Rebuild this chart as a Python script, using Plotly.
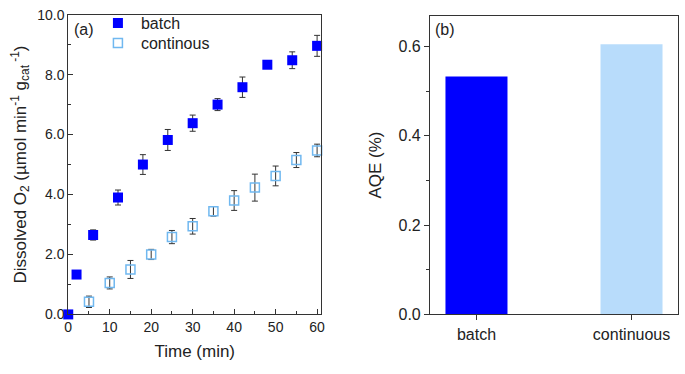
import plotly.graph_objects as go

# ---- data ----
batch_t = [0, 2, 6, 12, 18, 24, 30, 36, 42, 48, 54, 60]
batch_o2 = [0.0, 1.33, 2.65, 3.9, 5.0, 5.82, 6.38, 7.0, 7.58, 8.33, 8.48, 8.96]
batch_err = [0.0, 0.1, 0.17, 0.25, 0.33, 0.35, 0.27, 0.2, 0.34, 0.08, 0.28, 0.35]

cont_t = [5, 10, 15, 20, 25, 30, 35, 40, 45, 50, 55, 60]
cont_o2 = [0.42, 1.05, 1.5, 2.0, 2.58, 2.94, 3.44, 3.8, 4.23, 4.62, 5.15, 5.47]
cont_err = [0.19, 0.2, 0.3, 0.17, 0.22, 0.26, 0.16, 0.33, 0.45, 0.33, 0.25, 0.21]

aqe_cats = ["batch", "continuous"]
aqe_vals = [0.533, 0.605]

y_ticks = [0, 2, 4, 6, 8, 10]
y_ticklabels = ["0.0", "2.0", "4.0", "6.0", "8.0", "10.0"]

BLUE = "#0000ff"
LIGHT = "#b8dcfb"
HOLLOW = "#70b8f0"
FONT = "Liberation Sans, Arial, sans-serif"
TXT = "#222222"

fig = go.Figure()

fig.add_trace(go.Scatter(
    x=batch_t, y=batch_o2, mode="markers", name="batch", legend="legend",
    marker=dict(symbol="square", size=10, color=BLUE, line=dict(width=0)),
    error_y=dict(type="data", array=batch_err, color="#333333", thickness=1, width=3),
    xaxis="x", yaxis="y", cliponaxis=False,
))
fig.add_trace(go.Scatter(
    x=cont_t, y=cont_o2, mode="markers", name="continous", legend="legend2",
    marker=dict(symbol="square-open", size=9, color=HOLLOW, line=dict(width=1.5)),
    error_y=dict(type="data", array=cont_err, color="#333333", thickness=1, width=3),
    xaxis="x", yaxis="y", cliponaxis=False,
))
fig.add_trace(go.Bar(
    x=aqe_cats, y=aqe_vals, marker=dict(color=[BLUE, LIGHT], line=dict(width=0)),
    width=0.4, showlegend=False, xaxis="x2", yaxis="y2",
))

H = 374.0
W = 685.0

axis_common = dict(showline=True, linecolor="#333333", linewidth=1, mirror=True,
                   showgrid=False, zeroline=False, color=TXT, ticklabeloverflow="allow")

leg_common = dict(xanchor="left", yanchor="top", bgcolor="rgba(0,0,0,0)",
                  font=dict(size=16, family=FONT, color=TXT), itemwidth=36)

fig.update_layout(
    width=685, height=374, margin=dict(l=0, r=0, t=0, b=0),
    paper_bgcolor="white", plot_bgcolor="white",
    font=dict(family=FONT, color=TXT),
    showlegend=True,
    legend=dict(x=92 / W, y=(H + 2) / H, **leg_common),
    legend2=dict(x=92 / W, y=(H - 19) / H, **leg_common),
    xaxis=dict(domain=[65 / W, 321 / W], range=[0, 61], anchor="y",
               ticks="inside", ticklen=5, tickcolor="#333333", dtick=10, tick0=0,
               tickfont=dict(size=14, family=FONT),
               minor=dict(ticks="inside", ticklen=3, dtick=5, tickcolor="#333333"),
               title=dict(text="Time (min)", font=dict(size=17, family=FONT), standoff=10),
               **axis_common),
    yaxis=dict(domain=[(H - 321) / H, (H - 7) / H], range=[0, 10], anchor="x",
               ticks="inside", ticklen=5, tickcolor="#333333",
               tickmode="array", tickvals=y_ticks, ticktext=y_ticklabels,
               tickfont=dict(size=14, family=FONT),
               minor=dict(ticks="inside", ticklen=3, dtick=1, tick0=0, tickcolor="#333333"),
               title=dict(text="Dissolved O<sub>2</sub> (µmol min<sup>-1</sup> g<sub>cat</sub><sup> -1</sup>)",
                          font=dict(size=17, family=FONT), standoff=6),
               **axis_common),
    xaxis2=dict(domain=[431 / W, 682 / W], range=[-0.3, 1.3], anchor="y2",
                ticks="outside", ticklen=5, tickcolor="#333333",
                tickfont=dict(size=16, family=FONT),
                **axis_common),
    yaxis2=dict(domain=[(H - 321) / H, (H - 8) / H], range=[0, 0.669], anchor="x2",
                ticks="outside", ticklen=5, tickcolor="#333333", dtick=0.2, tick0=0,
                tickformat=".1f", tickfont=dict(size=16, family=FONT),
                minor=dict(ticks="outside", ticklen=3, dtick=0.1, tickcolor="#333333"),
                title=dict(text="AQE (%)", font=dict(size=17, family=FONT), standoff=12),
                **axis_common),
)

fig.add_annotation(text="(a)", x=69 / W, y=(H - 23) / H, xref="paper", yref="paper",
                   xanchor="left", yanchor="middle", showarrow=False,
                   font=dict(size=16, family=FONT, color=TXT))
fig.add_annotation(text="(b)", x=434 / W, y=(H - 22) / H, xref="paper", yref="paper",
                   xanchor="left", yanchor="middle", showarrow=False,
                   font=dict(size=16, family=FONT, color=TXT))

fig.write_html("out.html", config={"displayModeBar": False},
               post_script="document.body.style.margin='0';document.body.style.overflow='hidden';")
